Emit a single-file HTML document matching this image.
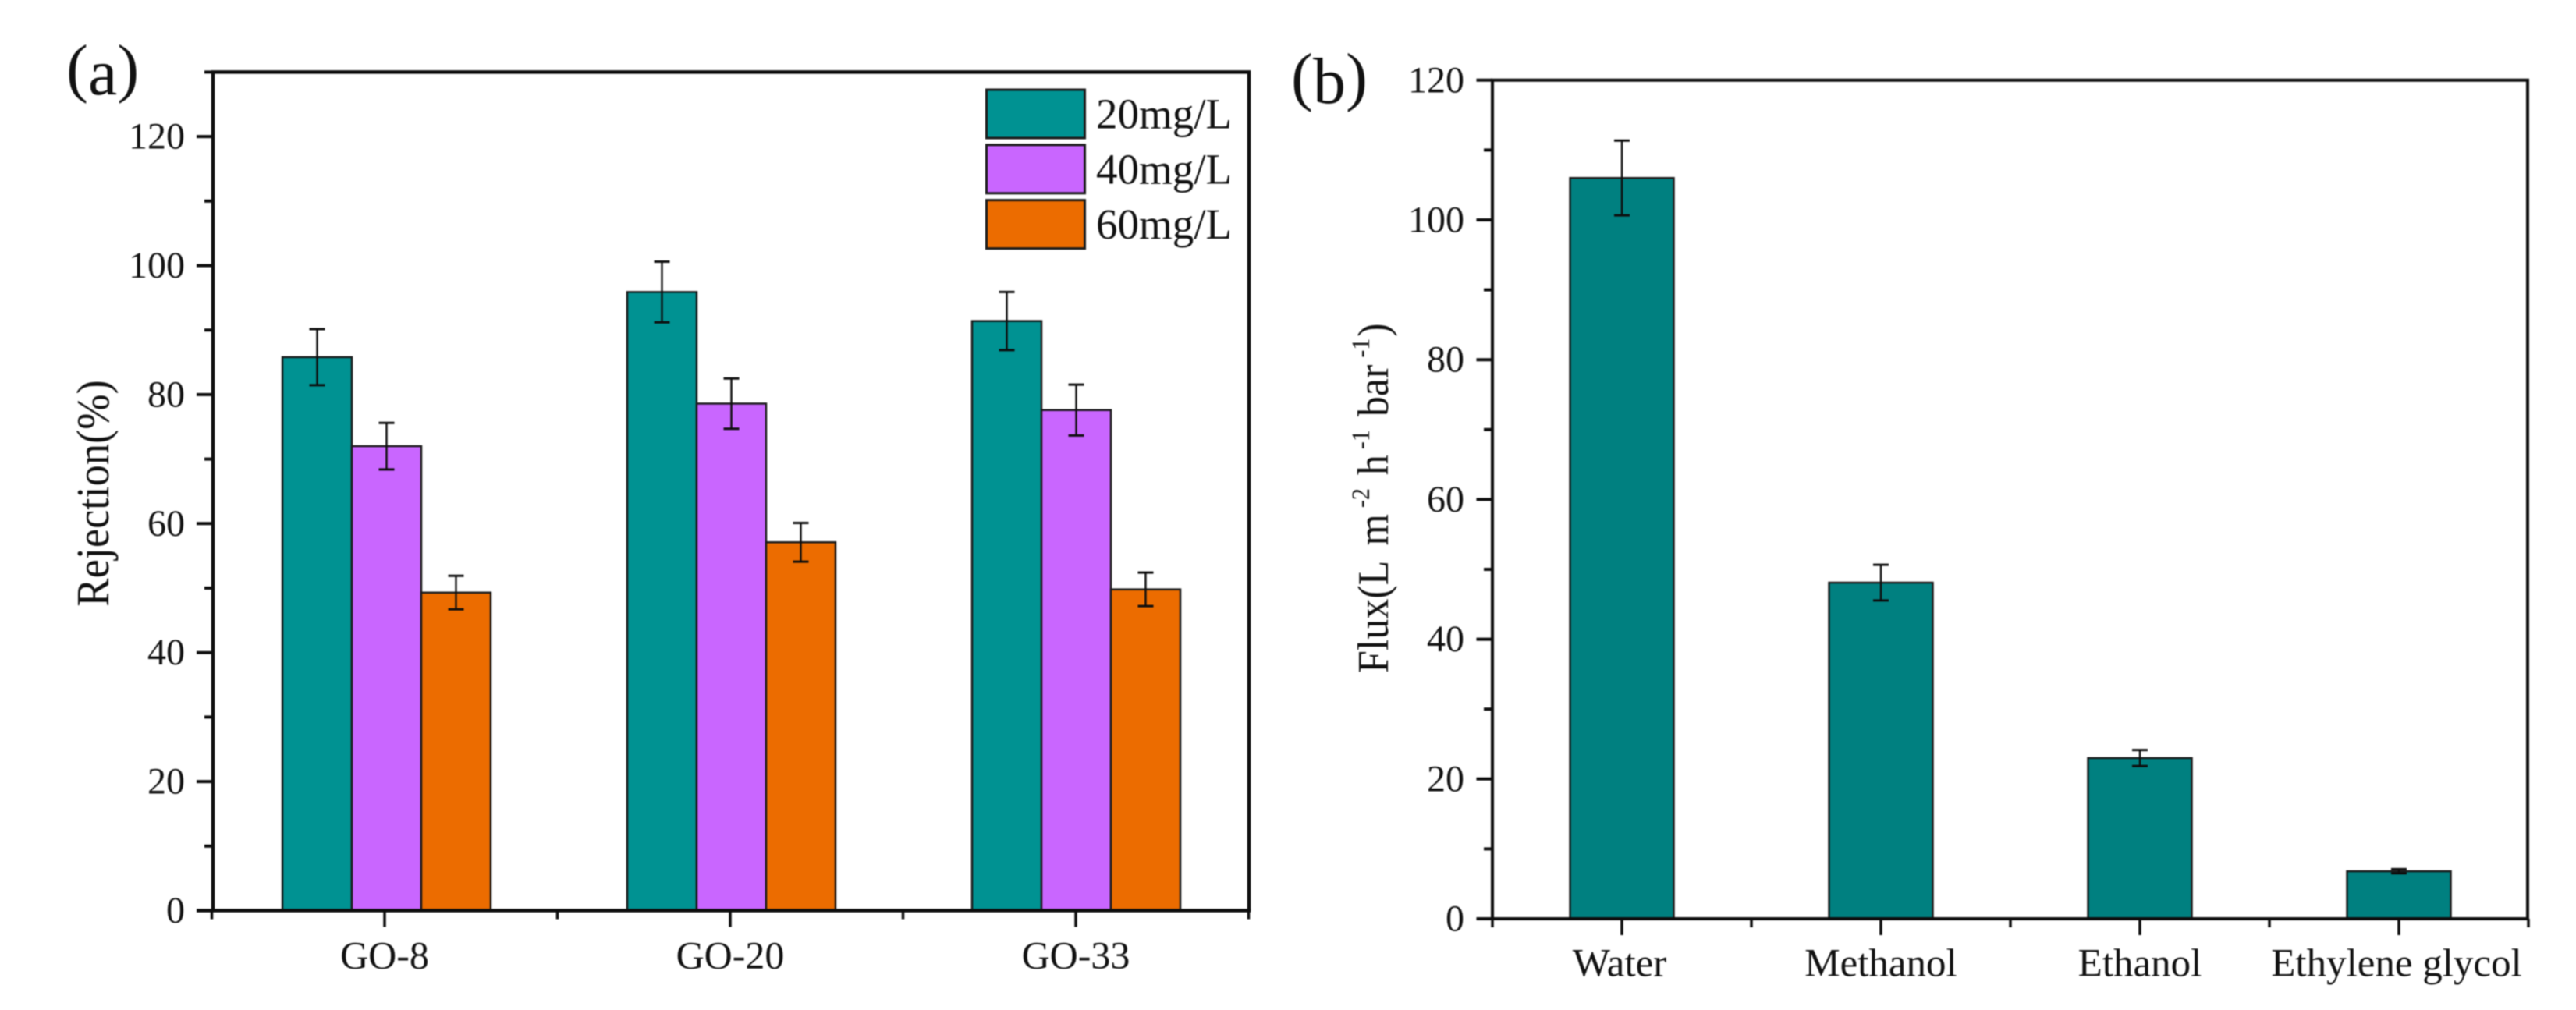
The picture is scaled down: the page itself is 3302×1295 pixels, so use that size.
<!DOCTYPE html>
<html lang="en">
<head>
<meta charset="utf-8">
<title>Rejection and flux bar charts</title>
<style>
html,body{margin:0;padding:0;background:#fff;width:3302px;height:1295px;overflow:hidden}
svg{display:block;filter:blur(0.7px)}
text{font-family:"Liberation Serif","Times New Roman",serif;fill:#111}
</style>
</head>
<body>
<svg id="fig" xmlns="http://www.w3.org/2000/svg" width="3302" height="1295" viewBox="0 0 3302 1295">
  <rect x="0" y="0" width="3302" height="1295" fill="#ffffff"/>
  <text x="85" y="115" font-size="84">(<tspan dy="6">a</tspan><tspan dy="-6">)</tspan></text>
  <text x="1655" y="126" font-size="84">(<tspan dy="6">b</tspan><tspan dy="-6">)</tspan></text>
  <text transform="translate(139,632.5) rotate(-90) scale(1,1.08)" text-anchor="middle" font-size="54.5">Rejection(%)</text>
  <text transform="translate(1779,863) rotate(-90) scale(1,1.08)" font-size="52">Flux(L <tspan dx="8">m</tspan><tspan font-size="30" dx="8" dy="-22">-2</tspan><tspan dx="4" dy="22"> h</tspan><tspan font-size="30" dx="7" dy="-22">-1</tspan><tspan dx="4" dy="22"> bar</tspan><tspan font-size="30" dx="9" dy="-22">-1</tspan><tspan dx="2" dy="22">)</tspan></text>
  <g id="panel-a"></g>
  <g id="panel-b"></g>
</svg>
<script>
// Panel (a) data
const categoriesA = ['GO-8', 'GO-20', 'GO-33'];
const seriesNamesA = ['20mg/L', '40mg/L', '60mg/L'];
const rejection20 = [85.8, 95.9, 91.4];
const rejection40 = [72.0, 78.6, 77.6];
const rejection60 = [49.3, 57.1, 49.8];
const error20 = [4.35, 4.7, 4.5];
const error40 = [3.6, 3.9, 3.95];
const error60 = [2.6, 3.0, 2.6];
const yTicksA = [0, 20, 40, 60, 80, 100, 120];
const yMinorTicksA = [10, 30, 50, 70, 90, 110, 130];

// Panel (b) data
const categoriesB = ['Water', 'Methanol', 'Ethanol', 'Ethylene glycol'];
const flux = [106.0, 48.1, 23.0, 6.8];
const fluxError = [5.35, 2.55, 1.15, 0.3];
const yTicksB = [0, 20, 40, 60, 80, 100, 120];
const yMinorTicksB = [10, 30, 50, 70, 90, 110];

const NS = 'http://www.w3.org/2000/svg';
const INK = '#0d0d0d';
const colorsA = ['#009292', '#C966FF', '#EC6C00'];

// Axis functions
function xA(pos) { return 493 + (pos - 1) * 443; }
function barLeftA(pos) { return 362 + (pos - 1) * 442; }
function yA(v) { return 1167.5 - v * 8.27; }
function xB(pos) { return 2079 + (pos - 1) * 332; }
function yB(v) { return 1178 - v * 8.96; }

function make(parent, tag, attrs, content) {
  const el = document.createElementNS(NS, tag);
  for (const k in attrs) el.setAttribute(k, attrs[k]);
  if (content !== undefined) el.textContent = content;
  parent.appendChild(el);
  return el;
}

function line(parent, x1, y1, x2, y2, w) {
  return make(parent, 'line', { x1: x1, y1: y1, x2: x2, y2: y2, stroke: INK, 'stroke-width': w });
}

function drawErrorBar(parent, cx, yTop, yBottom, label) {
  const stem = line(parent, cx, yTop, cx, yBottom, 2.4);
  
  
  const capTop = line(parent, cx - 10, yTop, cx + 10, yTop, 3);
  
  
  const capBottom = line(parent, cx - 10, yBottom, cx + 10, yBottom, 3);
  
  
}

function drawFrame(parent, left, right, top, bottom, w, majorLeft, prefix) {
  const frame = make(parent, 'path', {
    d: 'M' + left + ' ' + bottom + 'V' + top + 'H' + right + 'V' + bottom,
    fill: 'none', stroke: INK, 'stroke-width': w
  });
  
  
  const base = line(parent, majorLeft, bottom, right + w / 2, bottom, w);
  
  
}

function drawYAxis(parent, ticks, minors, yFn, axisX, majorLen, minorLen, labelRight, prefix) {
  ticks.forEach(function (t) {
    const tick = line(parent, axisX - majorLen, yFn(t), axisX, yFn(t), 4);
    
    
    const lab = make(parent, 'text', { x: labelRight, y: yFn(t) + 15.5, 'text-anchor': 'end', 'font-size': 48 }, String(t));
    
    
  });
  minors.forEach(function (t) {
    const tick = line(parent, axisX - minorLen, yFn(t), axisX, yFn(t), 4);
    
    
  });
}

function drawXAxis(parent, cats, xFn, bottom, labelY, fontSize, nudge, prefix) {
  cats.forEach(function (c, i) {
    const tick = line(parent, xFn(i + 1), bottom, xFn(i + 1), bottom + 21, 3.5);
    
    
    const lab = make(parent, 'text', { x: xFn(i + 1) + nudge(i), y: labelY, 'text-anchor': 'middle', 'font-size': fontSize }, c);
    
    
  });
  for (let i = 0; i <= cats.length; i++) {
    const minor = line(parent, xFn(i + 0.5), bottom, xFn(i + 0.5), bottom + 11, 3.5);
    
    
  }
}

// Panel (a)
(function () {
  const g = document.getElementById('panel-a');
  const bw = 89;
  const values = [rejection20, rejection40, rejection60];
  const errors = [error20, error40, error60];
  categoriesA.forEach(function (cat, i) {
    values.forEach(function (vals, s) {
      const bar = make(g, 'rect', {
        x: barLeftA(i + 1) + s * bw, y: yA(vals[i]), width: bw, height: yA(0) - yA(vals[i]),
        fill: colorsA[s], stroke: '#1a1a1a', 'stroke-width': 2.5
      });
      
      
    });
  });
  categoriesA.forEach(function (cat, i) {
    values.forEach(function (vals, s) {
      const cx = barLeftA(i + 1) + s * bw + bw / 2;
      drawErrorBar(g, cx, yA(vals[i] + errors[s][i]), yA(vals[i] - errors[s][i]), 'error-' + cat + '-' + s);
    });
  });
  drawFrame(g, 273, 1601, yA(130), yA(0), 4.5, 252, 'a');
  drawYAxis(g, yTicksA, yMinorTicksA, yA, 273, 21, 11, 237, 'a');
  drawXAxis(g, categoriesA, xA, yA(0), 1241.5, 50, function () { return 0; }, 'a');

  // Legend
  const swatchTops = seriesNamesA.map(function (_, s) { return 115 + s * 70.8; });
  seriesNamesA.forEach(function (name, s) {
    const sw = make(g, 'rect', {
      x: 1264.5, y: swatchTops[s], width: 126, height: 62,
      fill: colorsA[s], stroke: '#1a1a1a', 'stroke-width': 3
    });
    
    
    const t = make(g, 'text', { x: 1405, y: swatchTops[s] + 49.5, 'font-size': 55 }, name);
    
    
  });
})();

// Panel (b)
(function () {
  const g = document.getElementById('panel-b');
  const bw = 133;
  categoriesB.forEach(function (cat, i) {
    const bar = make(g, 'rect', {
      x: xB(i + 1) - bw / 2, y: yB(flux[i]), width: bw, height: yB(0) - yB(flux[i]),
      fill: '#008080', stroke: '#1a1a1a', 'stroke-width': 2.5
    });
    
    
  });
  categoriesB.forEach(function (cat, i) {
    drawErrorBar(g, xB(i + 1), yB(flux[i] + fluxError[i]), yB(flux[i] - fluxError[i]), 'error-' + cat);
  });
  drawFrame(g, 1913, 3240, yB(120), yB(0), 4, 1892.5, 'b');
  drawYAxis(g, yTicksB, yMinorTicksB, yB, 1913, 20.5, 11, 1877, 'b');
  drawXAxis(g, categoriesB, xB, yB(0), 1251.5, 51, function (i) { return i === 0 ? -3 : (i === categoriesB.length - 1 ? -3 : 0); }, 'b');
})();
</script>
</body>
</html>
